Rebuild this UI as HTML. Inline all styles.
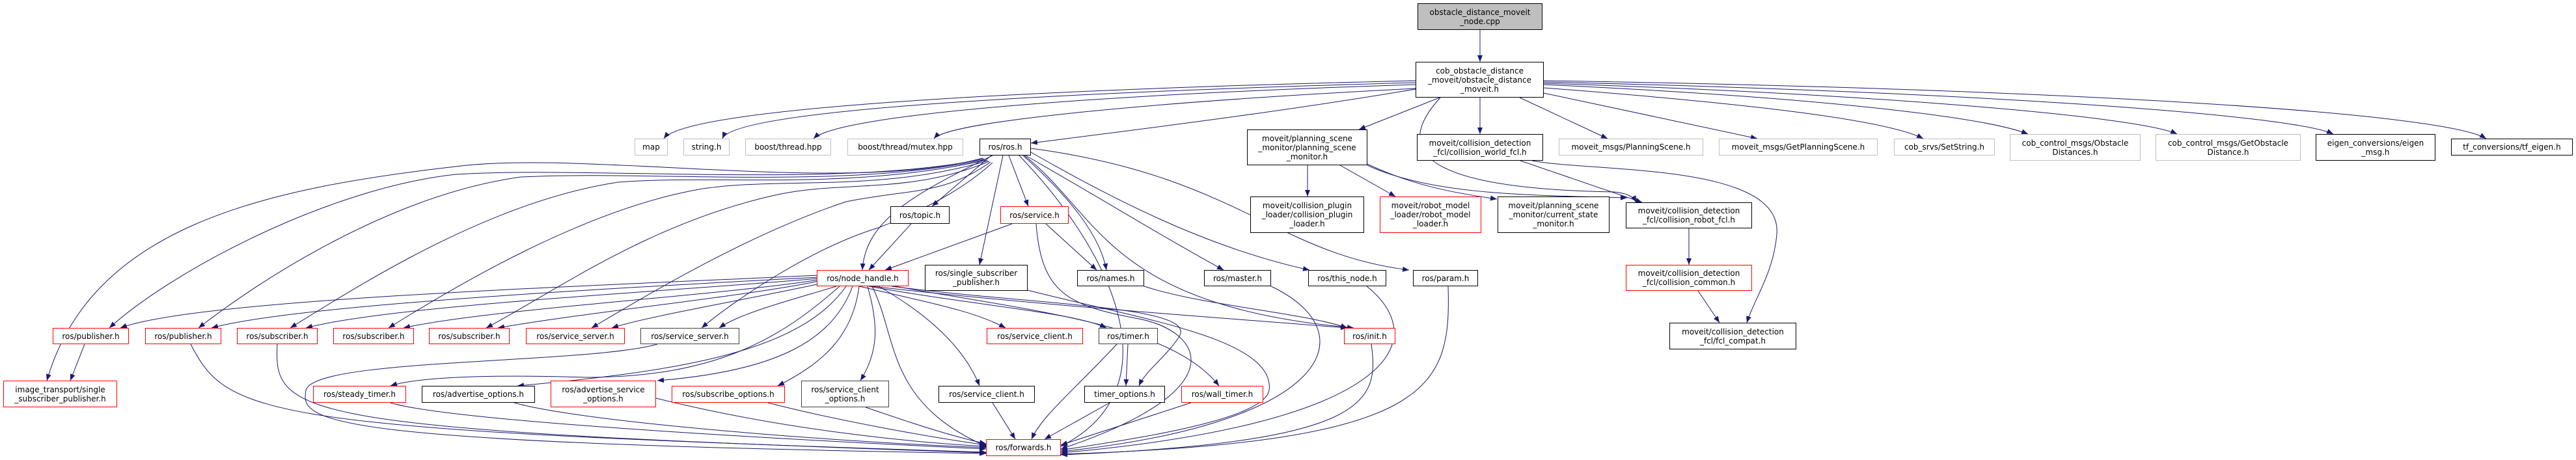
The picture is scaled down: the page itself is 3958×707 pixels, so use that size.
<!DOCTYPE html>
<html><head><meta charset="utf-8">
<style>
html,body{margin:0;padding:0;background:#fff;}
body{width:3958px;height:707px;position:relative;overflow:hidden;}
.n{position:absolute;box-sizing:border-box;border:1px solid #000;background:#fff;display:flex;align-items:center;justify-content:center;text-align:center;font:12px/14px "DejaVu Sans","Liberation Sans",sans-serif;white-space:nowrap;color:#000;}
.r{border-color:#ff0000;}
.g{border-color:#bfbfbf;}
.d{border-color:#404040;}
svg{position:absolute;left:0;top:0;}
</style></head><body>
<svg width="3958" height="707" viewBox="0 0 3958 707">
<defs><marker id="a" markerUnits="userSpaceOnUse" markerWidth="11" markerHeight="8" refX="10" refY="4" orient="auto"><path d="M0,0 L10,4 L0,8 z" fill="#191970"/></marker></defs>
<g fill="none" stroke="#191970" stroke-width="1" marker-end="url(#a)">
<path d="M2274,46 L2274,95"/>
<path d="M2175,124 C1700,135 1060,160 1020,213"/>
<path d="M2175,127 C1700,140 1130,165 1110,213"/>
<path d="M2175,130 C1700,145 1290,175 1250,213"/>
<path d="M2175,136 C1800,155 1460,185 1435,213"/>
<path d="M2175,137 C1950,175 1700,205 1584,220"/>
<path d="M2212,150 L2088,199"/>
<path d="M2274,150 L2274,206"/>
<path d="M2335,150 L2470,213"/>
<path d="M2372,143 L2700,213"/>
<path d="M2372,135 C2700,160 2900,185 2955,213"/>
<path d="M2372,130 C2800,150 3050,180 3116,206"/>
<path d="M2372,128 C2900,145 3290,180 3345,206"/>
<path d="M2372,126 C3000,140 3520,175 3585,206"/>
<path d="M2372,124 C3100,135 3750,170 3820,213"/>
<path d="M2213,150 C2140,230 2180,290 2480,295 C2500,297 2510,302 2514,311"/>
<path d="M2101,252 C2180,290 2260,300 2300,306"/>
<path d="M2101,254 C2200,300 2350,300 2500,304"/>
<path d="M2336,247 L2523,311"/>
<path d="M2354,247 C2450,265 2740,250 2730,360 C2725,420 2695,460 2684,496"/>
<path d="M2595,351 L2595,407"/>
<path d="M2609,447 L2642,496"/>
<path d="M2009,254 L2009,302"/>
<path d="M2059,254 L2144,302"/>
<path d="M1523,239 L1432,317"/>
<path d="M1550,239 L1580,317"/>
<path d="M1541,239 L1505,407"/>
<path d="M1572,239 C1640,300 1690,360 1700,415"/>
<path d="M1576,239 C1700,310 1780,360 1880,415"/>
<path d="M1584,234 C1700,300 1850,380 2012,415"/>
<path d="M1584,228 C1900,270 1960,390 2165,415"/>
<path d="M1574,239 C1690,330 1700,470 2080,504"/>
<path d="M1566,239 C1720,400 1800,600 1630,686"/>
<path d="M1510,243 C1300,300 900,230 700,256 C400,290 140,350 72,585"/>
<path d="M1512,244 C1300,290 900,255 700,268 C500,290 260,420 168,504"/>
<path d="M1514,245 C1300,292 1000,262 800,272 C600,300 400,430 305,504"/>
<path d="M1516,246 C1300,294 1100,268 950,280 C750,310 550,440 446,504"/>
<path d="M1518,247 C1350,296 1200,272 1080,290 C900,320 700,440 597,504"/>
<path d="M1520,248 C1400,298 1300,278 1200,298 C1000,340 850,450 747,504"/>
<path d="M1522,249 C1450,300 1400,290 1300,310 C1150,360 1000,450 909,504"/>
<path d="M1525,250 C1470,300 1400,330 1350,350 C1250,380 1130,460 1078,504"/>
<path d="M1525,239 C1400,300 1330,340 1325,415"/>
<path d="M1400,344 L1335,415"/>
<path d="M1555,344 L1360,415"/>
<path d="M1607,344 L1685,415"/>
<path d="M1592,344 C1600,450 1640,470 1750,490 C1850,510 1900,600 1630,690"/>
<path d="M1579,446 C1750,490 1960,520 1950,600 C1940,650 1700,680 1630,692"/>
<path d="M1758,440 C1850,470 2000,480 2070,504"/>
<path d="M1953,440 C2100,510 2050,650 1630,694"/>
<path d="M2100,440 C2200,520 2150,650 1630,696"/>
<path d="M2225,440 C2230,600 2200,680 1630,698"/>
<path d="M2107,529 C2120,620 2100,680 1630,699"/>
<path d="M1258,423 C900,440 300,460 185,504"/>
<path d="M1258,426 C900,445 450,470 325,504"/>
<path d="M1258,428 C1000,450 600,470 470,504"/>
<path d="M1258,430 C1100,455 750,475 620,504"/>
<path d="M1258,432 C1150,455 900,480 765,504"/>
<path d="M1260,436 C1150,460 1000,485 940,504"/>
<path d="M1285,440 C1220,460 1140,480 1105,504"/>
<path d="M1320,440 C1450,470 1500,480 1545,504"/>
<path d="M1335,440 C1500,470 1650,480 1700,504"/>
<path d="M1340,440 C1600,470 1900,490 2070,504"/>
<path d="M1290,440 C1200,520 1100,580 900,580 C750,575 640,580 600,593"/>
<path d="M1300,440 C1230,540 1050,570 795,593"/>
<path d="M1310,440 C1280,520 1200,570 1010,585"/>
<path d="M1320,440 C1310,520 1260,560 1195,593"/>
<path d="M1333,440 C1350,500 1350,540 1322,585"/>
<path d="M1350,440 C1420,480 1480,530 1505,593"/>
<path d="M1370,440 C1600,470 1850,470 1810,520 C1790,550 1760,570 1750,593"/>
<path d="M1375,440 C1600,480 1800,500 1873,593"/>
<path d="M1340,440 C1380,520 1360,620 1520,688"/>
<path d="M130,529 L108,585"/>
<path d="M293,529 C350,640 400,660 1515,695"/>
<path d="M426,529 C420,640 450,660 1515,696"/>
<path d="M1010,529 C900,560 480,550 470,600 C460,650 500,680 1515,697"/>
<path d="M600,619 C700,650 1300,680 1515,690"/>
<path d="M790,619 C900,650 1300,680 1515,688"/>
<path d="M1008,612 C1200,660 1400,680 1515,686"/>
<path d="M1180,619 C1300,650 1450,675 1515,684"/>
<path d="M1330,626 C1400,650 1460,670 1515,682"/>
<path d="M1525,619 L1560,675"/>
<path d="M1733,529 L1730,593"/>
<path d="M1716,529 C1650,600 1600,640 1585,675"/>
<path d="M1705,619 L1605,675"/>
<path d="M1830,619 L1630,684"/>
</g>
</svg>
<div class="n" style="left:2178px;top:5px;width:192px;height:41px;background:#bfbfbf;">obstacle_distance_moveit<br>_node.cpp</div>
<div class="n" style="left:2175px;top:95px;width:197px;height:55px;">cob_obstacle_distance<br>_moveit/obstacle_distance<br>_moveit.h</div>
<div class="n g" style="left:975px;top:213px;width:51px;height:26px;">map</div>
<div class="n g" style="left:1050px;top:213px;width:71px;height:26px;">string.h</div>
<div class="n g" style="left:1145px;top:213px;width:132px;height:26px;">boost/thread.hpp</div>
<div class="n g" style="left:1302px;top:213px;width:178px;height:26px;">boost/thread/mutex.hpp</div>
<div class="n" style="left:1505px;top:213px;width:79px;height:26px;">ros/ros.h</div>
<div class="n" style="left:1916px;top:199px;width:185px;height:55px;">moveit/planning_scene<br>_monitor/planning_scene<br>_monitor.h</div>
<div class="n" style="left:2177px;top:206px;width:194px;height:41px;">moveit/collision_detection<br>_fcl/collision_world_fcl.h</div>
<div class="n g" style="left:2395px;top:213px;width:222px;height:26px;">moveit_msgs/PlanningScene.h</div>
<div class="n g" style="left:2641px;top:213px;width:244px;height:26px;">moveit_msgs/GetPlanningScene.h</div>
<div class="n g" style="left:2910px;top:213px;width:155px;height:26px;">cob_srvs/SetString.h</div>
<div class="n g" style="left:3088px;top:206px;width:201px;height:41px;">cob_control_msgs/Obstacle<br>Distances.h</div>
<div class="n g" style="left:3312px;top:206px;width:223px;height:41px;">cob_control_msgs/GetObstacle<br>Distance.h</div>
<div class="n" style="left:3558px;top:206px;width:184px;height:41px;">eigen_conversions/eigen<br>_msg.h</div>
<div class="n" style="left:3766px;top:213px;width:187px;height:26px;">tf_conversions/tf_eigen.h</div>
<div class="n" style="left:1368px;top:317px;width:91px;height:27px;">ros/topic.h</div>
<div class="n r" style="left:1537px;top:317px;width:105px;height:27px;">ros/service.h</div>
<div class="n" style="left:1921px;top:302px;width:175px;height:56px;">moveit/collision_plugin<br>_loader/collision_plugin<br>_loader.h</div>
<div class="n r" style="left:2120px;top:302px;width:156px;height:56px;">moveit/robot_model<br>_loader/robot_model<br>_loader.h</div>
<div class="n" style="left:2301px;top:302px;width:172px;height:56px;">moveit/planning_scene<br>_monitor/current_state<br>_monitor.h</div>
<div class="n" style="left:2498px;top:311px;width:194px;height:40px;">moveit/collision_detection<br>_fcl/collision_robot_fcl.h</div>
<div class="n r" style="left:1255px;top:415px;width:141px;height:25px;">ros/node_handle.h</div>
<div class="n" style="left:1421px;top:407px;width:158px;height:40px;">ros/single_subscriber<br>_publisher.h</div>
<div class="n" style="left:1655px;top:415px;width:103px;height:25px;">ros/names.h</div>
<div class="n" style="left:1850px;top:415px;width:103px;height:25px;">ros/master.h</div>
<div class="n" style="left:2010px;top:415px;width:120px;height:25px;">ros/this_node.h</div>
<div class="n" style="left:2171px;top:415px;width:100px;height:25px;">ros/param.h</div>
<div class="n r" style="left:2498px;top:407px;width:194px;height:40px;">moveit/collision_detection<br>_fcl/collision_common.h</div>
<div class="n r" style="left:81px;top:504px;width:117px;height:25px;">ros/publisher.h</div>
<div class="n r" style="left:223px;top:504px;width:117px;height:25px;">ros/publisher.h</div>
<div class="n r" style="left:364px;top:504px;width:124px;height:25px;">ros/subscriber.h</div>
<div class="n r" style="left:512px;top:504px;width:124px;height:25px;">ros/subscriber.h</div>
<div class="n r" style="left:659px;top:504px;width:124px;height:25px;">ros/subscriber.h</div>
<div class="n r" style="left:808px;top:504px;width:152px;height:25px;">ros/service_server.h</div>
<div class="n d" style="left:984px;top:504px;width:152px;height:25px;">ros/service_server.h</div>
<div class="n r" style="left:1516px;top:504px;width:148px;height:25px;">ros/service_client.h</div>
<div class="n d" style="left:1688px;top:504px;width:91px;height:25px;">ros/timer.h</div>
<div class="n r" style="left:2065px;top:504px;width:79px;height:25px;">ros/init.h</div>
<div class="n" style="left:2565px;top:496px;width:195px;height:41px;">moveit/collision_detection<br>_fcl/fcl_compat.h</div>
<div class="n r" style="left:5px;top:585px;width:175px;height:41px;">image_transport/single<br>_subscriber_publisher.h</div>
<div class="n r" style="left:481px;top:593px;width:143px;height:26px;">ros/steady_timer.h</div>
<div class="n" style="left:648px;top:593px;width:174px;height:26px;">ros/advertise_options.h</div>
<div class="n r" style="left:846px;top:585px;width:162px;height:41px;">ros/advertise_service<br>_options.h</div>
<div class="n r" style="left:1032px;top:593px;width:174px;height:26px;">ros/subscribe_options.h</div>
<div class="n d" style="left:1231px;top:585px;width:135px;height:41px;">ros/service_client<br>_options.h</div>
<div class="n" style="left:1442px;top:593px;width:148px;height:26px;">ros/service_client.h</div>
<div class="n" style="left:1666px;top:593px;width:124px;height:26px;">timer_options.h</div>
<div class="n r" style="left:1815px;top:593px;width:126px;height:26px;">ros/wall_timer.h</div>
<div class="n r" style="left:1515px;top:675px;width:115px;height:26px;">ros/forwards.h</div>
</body></html>
